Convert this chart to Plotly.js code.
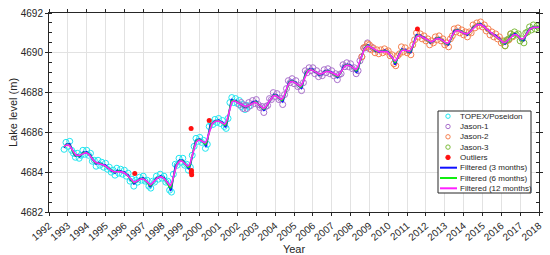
<!DOCTYPE html>
<html>
<head>
<meta charset="utf-8">
<script src="https://cdn.plot.ly/plotly-3.0.1.min.js"></script>
<style>
  body { margin: 0; background: #fff; }
  #grafico { width: 550px; height: 255px; }
</style>
</head>
<body>
<div id="grafico"></div>
<script>
// Un dato cada 0.1 años desde el inicio de cada misión
const paso = 0.1;

const inicioTopex = 1992.8;
const nivelTopex = [
  4685.15, 4685.5,
  4685.3, 4685.55, 4685.1, 4684.95, 4684.75, 4684.95, 4684.7, 4684.85, 4685.1, 4684.9,
  4685.1, 4684.85, 4684.95, 4684.55, 4684.6, 4684.3, 4684.6, 4684.35, 4684.5, 4684.25,
  4684.45, 4684.15, 4684.25, 4684.0, 4684.1, 4683.85, 4684.2, 4683.95, 4684.15, 4683.9,
  4684.1, 4683.8, 4683.95, 4683.55, 4683.65, 4683.3, 4683.6, 4683.5, 4683.75, 4683.6,
  4683.8, 4683.55, 4683.6, 4683.3, 4683.2, 4683.55, 4683.5, 4683.8, 4683.65, 4683.9,
  4683.7, 4683.8, 4683.5, 4683.55, 4683.1, 4683.0, 4683.9, 4684.4, 4684.35, 4684.7,
  4684.5, 4684.7, 4684.35, 4684.4, 4684.1, 4684.25, 4684.85, 4685.3, 4685.7, 4685.55,
  4685.75, 4685.5, 4685.6, 4685.2, 4685.4, 4686.3, 4686.5, 4686.4, 4686.65, 4686.5,
  4686.7, 4686.45, 4686.6, 4686.3, 4686.2, 4686.7, 4687.5, 4687.75, 4687.5, 4687.7,
  4687.45, 4687.6, 4687.3, 4687.4, 4687.15, 4687.35, 4687.3
];

const inicioJason1 = 2002.1;
const nivelJason1 = [
  4687.4, 4687.5, 4687.2, 4687.35, 4687.2, 4687.5, 4687.35, 4687.6, 4687.45,
  4687.65, 4687.4, 4687.25, 4687.3, 4687.0, 4687.3, 4687.35, 4687.7, 4687.65, 4688.0,
  4687.8, 4687.95, 4687.65, 4687.7, 4687.4, 4687.9, 4688.2, 4688.6, 4688.5, 4688.7,
  4688.45, 4688.6, 4688.3, 4688.35, 4688.1, 4688.5, 4689.1, 4689.0, 4689.25, 4689.1,
  4689.25, 4688.95, 4689.1, 4688.8, 4688.95, 4688.85, 4689.15, 4689.0, 4689.2, 4688.95,
  4689.1, 4688.85, 4688.95, 4688.65, 4688.9, 4688.95, 4689.4, 4689.3, 4689.5, 4689.3,
  4689.45, 4689.2, 4689.25, 4688.95, 4689.1, 4689.6, 4689.8, 4690.25, 4690.25, 4690.5,
  4690.2, 4690.3
];

const inicioJason2 = 2008.6;
const nivelJason2 = [
  4689.8, 4690.25, 4690.3, 4690.45,
  4690.4, 4690.15, 4690.25, 4690.0, 4690.15, 4689.95, 4690.15, 4690.0, 4690.2, 4690.05,
  4690.1, 4689.85, 4689.9, 4689.45, 4689.35, 4689.85, 4689.95, 4690.3, 4690.05, 4690.25,
  4690.0, 4690.1, 4689.9, 4690.4, 4690.65, 4691.0, 4690.8, 4690.95, 4690.7, 4690.85,
  4690.6, 4690.7, 4690.4, 4690.6, 4690.5, 4690.8, 4690.65, 4690.85, 4690.6, 4690.7,
  4690.4, 4690.5, 4690.3, 4690.7, 4690.85, 4691.2, 4691.05, 4691.25, 4691.0, 4691.15,
  4690.9, 4691.05, 4690.8, 4691.05, 4691.0, 4691.4, 4691.25, 4691.5, 4691.35, 4691.55,
  4691.3, 4691.4, 4691.1, 4691.2, 4690.9, 4691.05, 4690.8, 4690.95, 4690.7, 4690.8,
  4690.5, 4690.6, 4690.35, 4690.6, 4690.65, 4690.95, 4690.8
];

const inicioJason3 = 2016.1;
const nivelJason3 = [
  4690.55, 4690.35, 4690.65, 4690.7, 4690.95, 4690.85, 4691.05, 4690.9, 4690.95,
  4690.6, 4690.7, 4690.5, 4691.0, 4691.05, 4691.3, 4691.15, 4691.4, 4691.2, 4691.35,
  4691.25
];

const fechaOutliers = [1996.55, 1999.54, 1999.56, 1999.55, 1999.57, 2000.5, 2011.55];
const nivelOutliers = [4683.93, 4686.2, 4684.09, 4684.0, 4683.87, 4686.6, 4691.2];

const colores = {
  topex: "#1fe6f0",
  jason1: "#a970cc",
  jason2: "#f5804f",
  jason3: "#7cbb3a",
  outliers: "#ff1010",
  f3: "#1010ff",
  f6: "#10ee10",
  f12: "#ff20ff"
};

const fechas = (inicio, valores) =>
  valores.map((_, i) => Math.round((inicio + i * paso) * 100) / 100);

// Todos los puntos juntos para los filtros
const misiones = [
  [inicioTopex, nivelTopex],
  [inicioJason1, nivelJason1],
  [inicioJason2, nivelJason2],
  [inicioJason3, nivelJason3]
];
const puntos = [];
misiones.forEach(([inicio, valores]) => {
  fechas(inicio, valores).forEach((t, i) => puntos.push([t, valores[i]]));
});
puntos.sort((a, b) => a[0] - b[0]);

// Filtro gaussiano sobre los puntos
const suavizar = (sigma) => {
  const xs = [], ys = [];
  const t0 = puntos[0][0], t1 = puntos[puntos.length - 1][0];
  for (let t = t0; t <= t1 + 1e-6; t += 0.025) {
    let suma = 0, pesos = 0;
    puntos.forEach(([x, y]) => {
      const d = (x - t) / sigma;
      if (Math.abs(d) < 4) {
        const w = Math.exp(-0.5 * d * d);
        suma += w * y;
        pesos += w;
      }
    });
    xs.push(t);
    ys.push(suma / pesos);
  }
  return {xs, ys};
};

const circulos = (nombre, inicio, valores, color) => ({
  x: fechas(inicio, valores),
  y: valores,
  name: nombre,
  type: "scatter",
  mode: "markers",
  marker: {symbol: "circle-open", size: 6, color: color, line: {width: 1, color: color}}
});

const linea = (nombre, sigma, color) => {
  const f = suavizar(sigma);
  return {
    x: f.xs, y: f.ys, name: nombre, type: "scatter", mode: "lines",
    line: {color: color, width: 1.6}
  };
};

const trazas = [
  circulos("TOPEX/Poseidon", inicioTopex, nivelTopex, colores.topex),
  circulos("Jason-1", inicioJason1, nivelJason1, colores.jason1),
  circulos("Jason-2", inicioJason2, nivelJason2, colores.jason2),
  circulos("Jason-3", inicioJason3, nivelJason3, colores.jason3),
  linea("Filtered (3 months)", 0.06, colores.f3),
  linea("Filtered (6 months)", 0.09, colores.f6),
  linea("Filtered (12 months)", 0.12, colores.f12),
  {
    x: fechaOutliers, y: nivelOutliers, name: "Outliers", type: "scatter", mode: "markers",
    marker: {symbol: "circle", size: 5, color: colores.outliers}
  }
];

// Leyenda hecha a mano (la de plotly es demasiado alta)
const margen = {l: 49, r: 11, t: 13, b: 43};
const ancho = 550 - margen.l - margen.r;
const alto = 255 - margen.t - margen.b;
const px2x = (p) => (p - margen.l) / ancho;
const px2y = (p) => (255 - margen.b - p) / alto;

const entradas = [
  ["TOPEX/Poseidon", "circulo", colores.topex],
  ["Jason-1", "circulo", colores.jason1],
  ["Jason-2", "circulo", colores.jason2],
  ["Jason-3", "circulo", colores.jason3],
  ["Outliers", "punto", colores.outliers],
  ["Filtered (3 months)", "linea", colores.f3],
  ["Filtered (6 months)", "linea", colores.f6],
  ["Filtered (12 months)", "linea", colores.f12]
];

const formas = [{
  type: "rect", xref: "paper", yref: "paper",
  x0: px2x(438), x1: px2x(531), y0: px2y(193), y1: px2y(111),
  fillcolor: "white", line: {color: "#262626", width: 1}, layer: "above"
}];
const notas = [];
entradas.forEach(([nombre, tipo, color], i) => {
  const fila = 116.2 + i * 10.3;
  if (tipo === "linea") {
    formas.push({
      type: "line", xref: "paper", yref: "paper", layer: "above",
      x0: px2x(440), x1: px2x(457), y0: px2y(fila), y1: px2y(fila),
      line: {color: color, width: 2}
    });
  } else {
    formas.push({
      type: "circle", xref: "paper", yref: "paper", layer: "above",
      xsizemode: "pixel", ysizemode: "pixel",
      xanchor: px2x(448), yanchor: px2y(fila),
      x0: -2.2, x1: 2.2, y0: -2.2, y1: 2.2,
      fillcolor: tipo === "punto" ? color : "rgba(0,0,0,0)",
      line: {color: color, width: 1}
    });
  }
  notas.push({
    text: nombre, xref: "paper", yref: "paper", showarrow: false,
    x: px2x(457.5), y: px2y(fila), xanchor: "left", yanchor: "middle",
    font: {size: 8, color: "#262626"}
  });
});

const ejeComun = {
  showline: true, linecolor: "#262626", linewidth: 1, mirror: "ticks",
  ticks: "outside", ticklen: 3, tickcolor: "#262626",
  showgrid: true, gridcolor: "#e2e2e2", zeroline: false
};

const diseño = {
  width: 550, height: 255,
  margin: margen,
  paper_bgcolor: "white", plot_bgcolor: "white",
  showlegend: false,
  font: {family: "Liberation Sans, Arial, sans-serif", size: 10, color: "#262626"},
  xaxis: Object.assign({}, ejeComun, {
    range: [1992, 2018], tick0: 1992, dtick: 1, tickangle: -40,
    title: {text: "Year", font: {size: 11}, standoff: 0}
  }),
  yaxis: Object.assign({}, ejeComun, {
    range: [4682, 4692], tick0: 4682, dtick: 2, tickformat: "d",
    minor: {dtick: 0.5, ticks: "inside", ticklen: 3, tickcolor: "#262626", showgrid: false},
    title: {text: "Lake level (m)", font: {size: 11}, standoff: 0}
  }),
  shapes: formas,
  annotations: notas
};

Plotly.newPlot("grafico", trazas, diseño, {staticPlot: true});
</script>
</body>
</html>
